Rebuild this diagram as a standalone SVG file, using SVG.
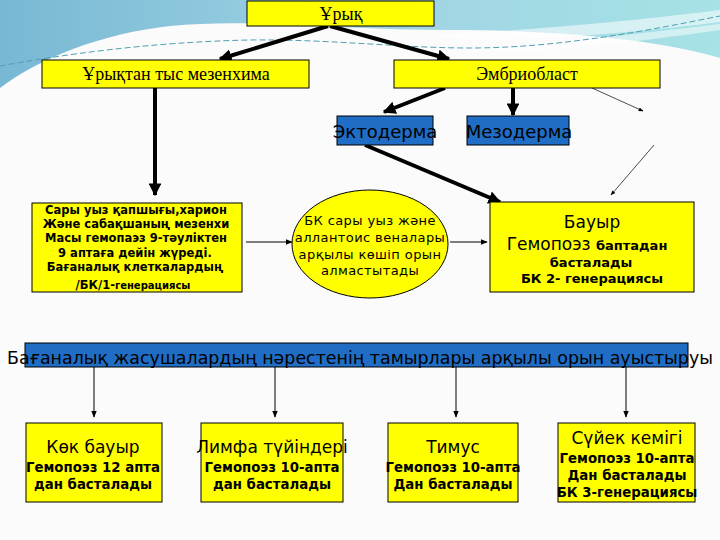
<svg xmlns="http://www.w3.org/2000/svg" width="720" height="540" viewBox="0 0 720 540">
<defs>
<linearGradient id="sky" x1="0" y1="0" x2="1" y2="0">
<stop offset="0" stop-color="#78b8d4"/>
<stop offset="0.5" stop-color="#9fd3e3"/>
<stop offset="1" stop-color="#a6e2e6"/>
</linearGradient>
<marker id="ah" viewBox="0 0 10 10" refX="9" refY="5" markerWidth="3.2" markerHeight="3.2" orient="auto" markerUnits="strokeWidth"><path d="M0,0 L10,5 L0,10 z" fill="#000"/></marker>
<marker id="as" viewBox="0 0 10 10" refX="9" refY="5" markerWidth="7" markerHeight="7" orient="auto" markerUnits="strokeWidth"><path d="M0,1 L10,5 L0,9 z" fill="#000"/></marker>
</defs>
<style>
.yb{fill:#ffff00;stroke:#000;stroke-width:1}
.bb{fill:#1f6dc4;stroke:#000;stroke-width:1}
.ser{font-family:"Liberation Serif","Times New Roman",serif;font-size:18px;fill:#000;text-anchor:middle}
.sn{font-family:"DejaVu Sans","Noto Sans",sans-serif;fill:#000;text-anchor:middle}
.bd{font-weight:bold}
.thick{stroke:#000;stroke-width:4;fill:none;marker-end:url(#ah)}
.thin{stroke:#000;stroke-width:1;fill:none;marker-end:url(#as)}
.hair{stroke:#000;stroke-width:0.7;fill:none;marker-end:url(#as)}
</style>
<rect x="0" y="0" width="720" height="540" fill="#fbfbfb"/>
<path d="M0,0 H720 V58 C660,40 560,30 450,30 C340,30 250,18 170,26 C100,34 40,58 0,88 Z" fill="url(#sky)"/>
<path d="M440,34 C540,30 640,20 720,10 V22 C640,32 540,42 440,38 Z" fill="#ffffff" opacity="0.55"/>
<path d="M470,48 C560,44 650,32 720,24 V30 C650,40 560,52 470,52 Z" fill="#ffffff" opacity="0.5"/>
<path d="M0,66 C60,55 150,42 250,40 C330,39 400,48 470,48 C560,48 650,30 720,16" fill="none" stroke="#4f9fb2" stroke-width="1" stroke-dasharray="6,3"/>

<g id="connectors">
<line class="thick" x1="328" y1="26" x2="220" y2="59"/>
<line class="thick" x1="330" y1="26" x2="449" y2="59"/>
<line class="thick" x1="155" y1="88" x2="155" y2="195"/>
<line class="thick" x1="445" y1="88" x2="384" y2="112"/>
<line class="thick" x1="513" y1="88" x2="513" y2="115"/>
<line class="hair" x1="592" y1="88" x2="643" y2="111"/>
<line class="hair" x1="654" y1="145" x2="611" y2="195"/>
<line class="thick" x1="365" y1="145" x2="500" y2="202"/>
<line class="thin" x1="246" y1="242" x2="292" y2="242"/>
<line class="thin" x1="450" y1="242" x2="487" y2="242"/>
<line class="thin" x1="94" y1="367" x2="94" y2="417"/>
<line class="thin" x1="275" y1="367" x2="275" y2="417"/>
<line class="thin" x1="456" y1="367" x2="456" y2="417"/>
<line class="thin" x1="626" y1="367" x2="626" y2="417"/>
</g>

<g id="uryk">
<rect class="yb" x="247" y="1" width="187" height="25"/>
<text class="ser" x="341" y="20">Ұрық</text>
</g>
<g id="mezenhima">
<rect class="yb" x="42" y="60" width="267" height="28"/>
<text class="ser" x="176" y="80">Ұрықтан тыс мезенхима</text>
</g>
<g id="embrioblast">
<rect class="yb" x="394" y="60" width="266" height="28"/>
<text class="ser" x="527" y="80">Эмбриобласт</text>
</g>
<g id="ektoderma">
<rect class="bb" x="337" y="116" width="96" height="29"/>
<text class="sn" x="385" y="138" font-size="18">Эктодерма</text>
</g>
<g id="mezoderma">
<rect class="bb" x="467" y="116" width="102" height="29"/>
<text class="sn" x="519" y="138" font-size="18">Мезодерма</text>
</g>

<g id="sary-uyz">
<rect class="yb" x="32" y="203" width="210" height="89"/>
<g class="sn bd" font-size="11.5">
<text x="136" y="214">Сары уыз қапшығы,харион</text>
<text x="136" y="228">Және сабақшаның мезенхи</text>
<text x="136" y="242">Масы гемопаэз 9-тәуліктен</text>
<text x="135" y="257">9 аптаға дейін жүреді.</text>
<text x="135" y="271">Бағаналық клеткалардың</text>
<text x="133" y="289">/БК/1-<tspan font-size="10">генерациясы</tspan></text>
</g>
</g>

<g id="ellipse">
<ellipse cx="370" cy="244" rx="78" ry="54" fill="#ffff00" stroke="#000" stroke-width="1"/>
<g class="sn" font-size="13" letter-spacing="0.4">
<text x="370" y="225">БК сары уыз және</text>
<text x="370" y="242">аллантоис веналары</text>
<text x="370" y="259">арқылы көшіп орын</text>
<text x="370" y="275">алмастытады</text>
</g>
</g>

<g id="bauyr">
<rect class="yb" x="490" y="202" width="204" height="90"/>
<text class="sn" x="592" y="228" font-size="17">Бауыр</text>
<text class="sn" x="587" y="250" font-size="17">Гемопоэз <tspan class="bd" font-size="13">баптадан</tspan></text>
<text class="sn bd" x="591" y="267" font-size="13">басталады</text>
<text class="sn bd" x="592" y="283" font-size="13">БК 2- генерациясы</text>
</g>

<g id="banner">
<rect class="bb" x="25" y="343" width="663" height="24"/>
<text class="sn" x="360" y="364" font-size="18.5" fill="#111" textLength="706" lengthAdjust="spacingAndGlyphs">Бағаналық жасушалардың нәрестенің тамырлары арқылы орын ауыстыруы</text>
</g>

<g id="kok-bauyr">
<rect class="yb" x="26" y="423" width="136" height="79"/>
<text class="sn" x="93" y="453" font-size="17">Көк бауыр</text>
<text class="sn bd" x="93" y="472" font-size="13.3">Гемопоэз 12 апта</text>
<text class="sn bd" x="93" y="489" font-size="13.3">дан басталады</text>
</g>
<g id="limfa">
<rect class="yb" x="201" y="423" width="142" height="79"/>
<text class="sn" x="272" y="453" font-size="17">Лимфа түйіндері</text>
<text class="sn bd" x="272" y="472" font-size="13.3">Гемопоэз 10-апта</text>
<text class="sn bd" x="272" y="489" font-size="13.3">дан басталады</text>
</g>
<g id="timus">
<rect class="yb" x="388" y="423" width="130" height="79"/>
<text class="sn" x="453" y="453" font-size="17">Тимус</text>
<text class="sn bd" x="453" y="472" font-size="13.3">Гемопоэз 10-апта</text>
<text class="sn bd" x="453" y="489" font-size="13.3">Дан басталады</text>
</g>
<g id="suyek">
<rect class="yb" x="558" y="423" width="137" height="79"/>
<text class="sn" x="627" y="444" font-size="17">Сүйек кемігі</text>
<text class="sn bd" x="627" y="463" font-size="13.3">Гемопоэз 10-апта</text>
<text class="sn bd" x="627" y="480" font-size="13.3">Дан басталады</text>
<text class="sn bd" x="627" y="497" font-size="13.3">БК 3-генерациясы</text>
</g>
</svg>
